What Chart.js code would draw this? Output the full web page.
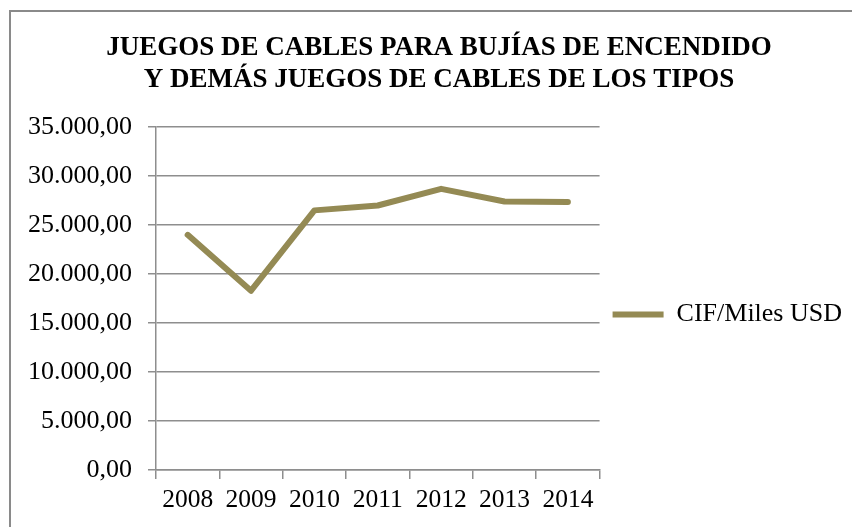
<!DOCTYPE html>
<html>
<head>
<meta charset="utf-8">
<title>Juegos de cables</title>
<script src="https://cdn.jsdelivr.net/npm/chart.js@4"></script>
<style>
  html, body { margin: 0; padding: 0; background: #fff; overflow: hidden; }
  #frame { position: absolute; left: 9px; top: 10px; width: 900px; height: 600px; border: 2px solid #8a8a8a; box-sizing: border-box; }
  #wrap { position: absolute; left: 0; top: 0; width: 852px; height: 527px; }
</style>
</head>
<body>
<div id="frame"></div>
<div id="wrap"><canvas id="myChart"></canvas></div>
<script>
'use strict';

// chart data
let chartTitle = ['JUEGOS DE CABLES PARA BUJÍAS DE ENCENDIDO', 'Y DEMÁS JUEGOS DE CABLES DE LOS TIPOS'];
let years = ['2008', '2009', '2010', '2011', '2012', '2013', '2014'];
let cifValues = [24000, 18300, 26500, 27000, 28700, 27400, 27350];
let seriesName = 'CIF/Miles USD';
let yMin = 0;
let yMax = 35000;
let yStep = 5000;

let lineColor = '#948a54';
let gridColor = '#8e8e8e';
let fontFamily = '"Liberation Serif", "Times New Roman", serif';

// 35000 -> 35.000,00
function formatNumber(value) {
  let parts = value.toFixed(2).split('.');
  let whole = parts[0].replace(/\B(?=(\d{3})+(?!\d))/g, '.');
  return whole + ',' + parts[1];
}

Chart.defaults.font.family = fontFamily;
Chart.defaults.color = '#000';

const ctx = document.getElementById('myChart').getContext('2d');

let myChart = new Chart(ctx, {
  type: 'line',
  data: {
    labels: years,
    datasets: [{
      label: seriesName,
      data: cifValues,
      borderColor: lineColor,
      backgroundColor: lineColor,
      borderWidth: 6,
      borderCapStyle: 'round',
      borderJoinStyle: 'round',
      pointRadius: 0,
      tension: 0
    }]
  },
  options: {
    responsive: true,
    maintainAspectRatio: false,
    animation: false,
    layout: {
      padding: { left: 26, right: 0, top: 33, bottom: 0 }
    },
    plugins: {
      title: {
        display: true,
        text: chartTitle,
        font: { size: 27, weight: 'bold', lineHeight: 1.15 },
        color: '#000',
        padding: { top: 0, bottom: 32 }
      },
      legend: {
        position: 'right',
        maxWidth: 400,
        // empty legend title only pushes the entry down to where Excel puts it
        title: { display: true, text: '', font: { size: 1, lineHeight: 1 }, padding: { top: 34, bottom: 34 } },
        labels: {
          usePointStyle: true,
          pointStyle: 'line',
          pointStyleWidth: 51,
          padding: 13,
          font: { size: 26 },
          color: '#000'
        }
      },
      tooltip: { enabled: false }
    },
    scales: {
      x: {
        offset: true,
        afterFit: function (scale) { scale.height = 57; },
        grid: {
          display: true,
          offset: true,
          drawOnChartArea: false,
          tickLength: 9,
          color: gridColor,
          lineWidth: 1.5
        },
        border: { display: true, color: gridColor, width: 1.5 },
        ticks: { font: { size: 25.5 }, color: '#000', padding: 6, maxRotation: 0 }
      },
      y: {
        min: yMin,
        max: yMax,
        afterFit: function (scale) { scale.width = 130; },
        grid: {
          color: gridColor,
          lineWidth: 1.5,
          tickLength: 8
        },
        border: { display: true, color: gridColor, width: 1.5 },
        ticks: {
          stepSize: yStep,
          padding: 16,
          font: { size: 26 },
          color: '#000',
          callback: function (value) { return formatNumber(value); }
        }
      }
    }
  }
});
</script>
</body>
</html>
